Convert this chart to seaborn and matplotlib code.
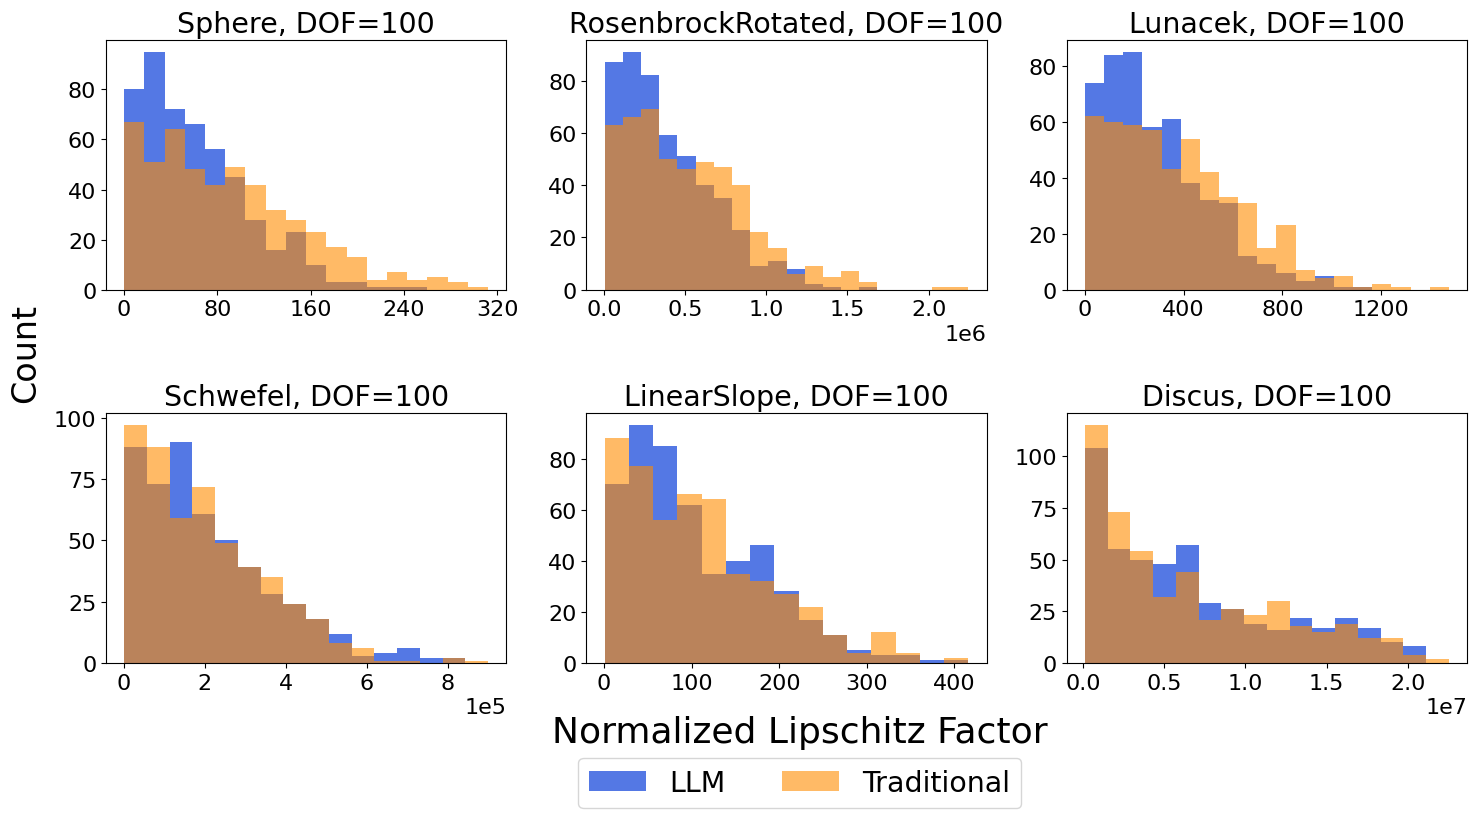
import numpy as np
import pandas as pd
import seaborn as sns
import matplotlib.pyplot as plt
from matplotlib.patches import Patch
from matplotlib.ticker import MaxNLocator

# panel titles and the bin range / count of each histogram
titles = [
    "Sphere, DOF=100",
    "RosenbrockRotated, DOF=100",
    "Lunacek, DOF=100",
    "Schwefel, DOF=100",
    "LinearSlope, DOF=100",
    "Discus, DOF=100",
]
bin_ranges = [
    (0.3, 312),
    (0.004e6, 2.245e6),
    (1, 1474),
    (0.01e5, 9.0e5),
    (0.5, 416),
    (0.01e7, 2.254e7),
]

# counts (500 samples per method)
sphere_llm = [80, 95, 72, 66, 56, 45, 28, 16, 23, 10, 3, 3, 1, 1, 1, 0, 0, 0]
sphere_trad = [67, 51, 64, 48, 42, 49, 42, 32, 28, 23, 17, 13, 4, 7, 4, 5, 3, 1]

rosen_llm = [87, 91, 82, 59, 51, 40, 35, 23, 9, 11, 8, 2, 1, 0, 1, 0, 0, 0, 0, 0]
rosen_trad = [63, 66, 69, 50, 46, 49, 47, 40, 22, 16, 6, 9, 5, 7, 3, 0, 0, 0, 1, 1]

lunacek_llm = [74, 84, 85, 58, 61, 38, 32, 31, 12, 9, 6, 3, 5, 1, 1, 0, 0, 0, 0]
lunacek_trad = [62, 60, 59, 57, 43, 54, 42, 33, 31, 15, 23, 7, 4, 5, 1, 2, 1, 0, 1]

schwefel_llm = [88, 73, 90, 61, 50, 39, 28, 24, 18, 12, 3, 4, 6, 2, 2, 0]
schwefel_trad = [97, 88, 59, 72, 49, 39, 35, 24, 18, 8, 6, 1, 1, 0, 2, 1]

slope_llm = [70, 93, 85, 62, 35, 40, 46, 28, 17, 11, 5, 3, 3, 1, 1]
slope_trad = [88, 77, 56, 66, 64, 35, 32, 27, 22, 11, 4, 12, 4, 0, 2]

discus_llm = [104, 55, 50, 48, 57, 29, 26, 19, 16, 22, 17, 22, 17, 10, 8, 0]
discus_trad = [115, 73, 54, 32, 44, 21, 26, 23, 30, 18, 15, 19, 12, 12, 4, 2]

llm_counts = [sphere_llm, rosen_llm, lunacek_llm, schwefel_llm, slope_llm, discus_llm]
trad_counts = [sphere_trad, rosen_trad, lunacek_trad, schwefel_trad, slope_trad, discus_trad]

methods = ["LLM", "Traditional"]
colors = {"LLM": "royalblue", "Traditional": "darkorange"}
alphas = {"LLM": 0.9, "Traditional": 0.6}

plt.rcParams["xtick.labelsize"] = 16
plt.rcParams["ytick.labelsize"] = 16

fig, axes = plt.subplots(2, 3, figsize=(14.78, 8.2), dpi=100)
fig.subplots_adjust(left=0.0717, right=0.9926, bottom=0.1902, top=0.95,
                    wspace=0.2, hspace=0.496)

for i, ax in enumerate(axes.flat):
    lo, hi = bin_ranges[i]
    n_bins = len(llm_counts[i])
    edges = np.linspace(lo, hi, n_bins + 1)
    centers = (edges[:-1] + edges[1:]) / 2

    # long-form table: one row per bin and method, weighted by the count
    df = pd.DataFrame({
        "value": np.concatenate([centers, centers]),
        "count": llm_counts[i] + trad_counts[i],
        "method": ["LLM"] * n_bins + ["Traditional"] * n_bins,
    })

    for m in methods:
        sns.histplot(
            data=df[df["method"] == m], x="value", weights="count",
            bins=n_bins, binrange=(lo, hi), color=colors[m],
            alpha=alphas[m], linewidth=0, ax=ax,
        )

    ax.set_title(titles[i], fontsize=20.5)
    ax.set_xlabel("")
    ax.set_ylabel("")
    ax.xaxis.set_major_locator(MaxNLocator(nbins=5))
    ax.yaxis.set_major_locator(MaxNLocator(nbins=5))
    # switch to an offset multiplier from 1e5 on
    ax.ticklabel_format(axis="x", style="sci", scilimits=(-4, 4))
    ax.xaxis.get_offset_text().set_fontsize(16)

fig.text(0.541, 0.106, "Normalized Lipschitz Factor", ha="center",
         va="center", fontsize=26)
fig.text(0.017, 0.5695, "Count", ha="center", va="center",
         rotation=90, fontsize=24)

handles = [Patch(facecolor=colors[m], alpha=alphas[m]) for m in methods]
fig.legend(handles, methods, loc="center", bbox_to_anchor=(0.541, 0.044),
           ncol=2, fontsize=20.5)

fig.savefig("out.png", dpi=100)
